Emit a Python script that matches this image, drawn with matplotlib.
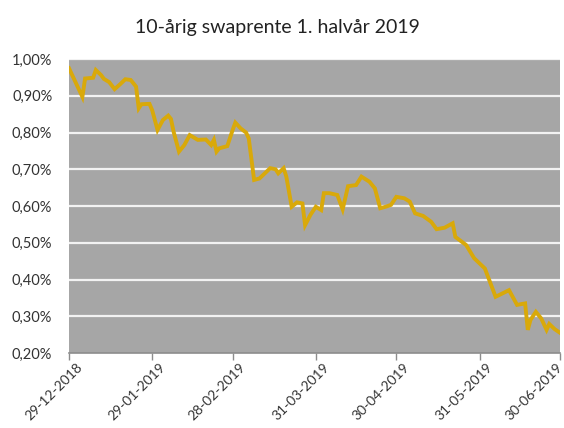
import datetime as dt
import matplotlib.pyplot as plt
import matplotlib.dates as mdates
import matplotlib.transforms as mtransforms
from matplotlib.ticker import FuncFormatter

plt.rcParams['font.family'] = ['Lato', 'DejaVu Sans']

# 10-year swap rate, %
dates = ['2018-12-29', '2019-01-03', '2019-01-04', '2019-01-07', '2019-01-08',
         '2019-01-10', '2019-01-11', '2019-01-13', '2019-01-15', '2019-01-17',
         '2019-01-19', '2019-01-21', '2019-01-23', '2019-01-24', '2019-01-25',
         '2019-01-28', '2019-01-29', '2019-01-31', '2019-02-02', '2019-02-04',
         '2019-02-05', '2019-02-06', '2019-02-08', '2019-02-10', '2019-02-12',
         '2019-02-15', '2019-02-18', '2019-02-20', '2019-02-21', '2019-02-22',
         '2019-02-23', '2019-02-26', '2019-02-28', '2019-03-01', '2019-03-03',
         '2019-03-05', '2019-03-06', '2019-03-08', '2019-03-10', '2019-03-12',
         '2019-03-14', '2019-03-16', '2019-03-17', '2019-03-19', '2019-03-20',
         '2019-03-22', '2019-03-24', '2019-03-26', '2019-03-27', '2019-03-29',
         '2019-03-31', '2019-04-02', '2019-04-03', '2019-04-05', '2019-04-08',
         '2019-04-10', '2019-04-12', '2019-04-15', '2019-04-17', '2019-04-20',
         '2019-04-22', '2019-04-24', '2019-04-26', '2019-04-28', '2019-04-30',
         '2019-05-03', '2019-05-05', '2019-05-07', '2019-05-10', '2019-05-13',
         '2019-05-15', '2019-05-18', '2019-05-21', '2019-05-22', '2019-05-26',
         '2019-05-29', '2019-06-02', '2019-06-06', '2019-06-11', '2019-06-14',
         '2019-06-17', '2019-06-18', '2019-06-19', '2019-06-21', '2019-06-23',
         '2019-06-25', '2019-06-26', '2019-06-28', '2019-06-30']
rate = [0.975, 0.897, 0.947, 0.949, 0.970,
        0.956, 0.946, 0.937, 0.918, 0.931,
        0.945, 0.943, 0.925, 0.866, 0.877,
        0.878, 0.861, 0.807, 0.834, 0.846,
        0.837, 0.802, 0.748, 0.766, 0.793,
        0.780, 0.781, 0.766, 0.780, 0.748,
        0.757, 0.763, 0.807, 0.827, 0.811,
        0.800, 0.784, 0.671, 0.675, 0.689,
        0.703, 0.700, 0.689, 0.703, 0.680,
        0.598, 0.610, 0.607, 0.548, 0.576,
        0.598, 0.589, 0.635, 0.635, 0.630,
        0.591, 0.654, 0.657, 0.680, 0.666,
        0.648, 0.594, 0.598, 0.603, 0.625,
        0.621, 0.612, 0.580, 0.573, 0.557,
        0.537, 0.541, 0.553, 0.516, 0.494,
        0.458, 0.430, 0.353, 0.371, 0.331,
        0.335, 0.263, 0.290, 0.312, 0.294,
        0.263, 0.279, 0.265, 0.255]

tick_dates = ['2018-12-29', '2019-01-29', '2019-02-28', '2019-03-31',
              '2019-04-30', '2019-05-31', '2019-06-30']
y_ticks = [0.2, 0.3, 0.4, 0.5, 0.6, 0.7, 0.8, 0.9, 1.0]

x = [dt.datetime.strptime(d, '%Y-%m-%d') for d in dates]
xt = [dt.datetime.strptime(d, '%Y-%m-%d') for d in tick_dates]

fig = plt.figure(figsize=(5.64, 4.28), dpi=100)
ax = fig.add_axes([0.1223, 0.1752, 0.8706, 0.6869])
ax.set_facecolor('#a6a6a6')

for yv in y_ticks[1:]:
    ax.axhline(yv, color='#f2f2f2', lw=1.6, zorder=1)

ax.plot(x, rate, color='#d9a90a', lw=2.8, solid_joinstyle='miter', zorder=3)

ax.set_xlim(xt[0], xt[-1])
ax.set_ylim(0.2, 1.0)
ax.set_yticks(y_ticks)
ax.yaxis.set_major_formatter(FuncFormatter(lambda v, p: f'{v:.2f}%'.replace('.', ',')))
ax.set_xticks(xt)
ax.xaxis.set_major_formatter(mdates.DateFormatter('%d-%m-%Y'))

for s in ['top', 'right', 'left']:
    ax.spines[s].set_visible(False)
ax.spines['bottom'].set_color('#8c8c8c')
ax.spines['bottom'].set_linewidth(1.2)

ax.tick_params(axis='y', length=0, labelsize=10.5, labelcolor='#333333', pad=12)
ax.tick_params(axis='x', length=5, width=1, color='#8c8c8c', labelsize=10,
               labelcolor='#333333', pad=4)
labels = ax.get_xticklabels()
for i, lab in enumerate(labels):
    lab.set_rotation(45)
    lab.set_ha('right')
    lab.set_va('center')
    lab.set_rotation_mode('anchor')
    dx = 11 if i < len(labels) - 1 else 0
    lab.set_transform(lab.get_transform() +
                      mtransforms.ScaledTranslation(dx / 100, 0, fig.dpi_scale_trans))

fig.text(0.492, 0.935, '10-årig swaprente 1. halvår 2019', ha='center', va='center',
         fontsize=14, color='#222222')

fig.savefig('out.png', dpi=100)
